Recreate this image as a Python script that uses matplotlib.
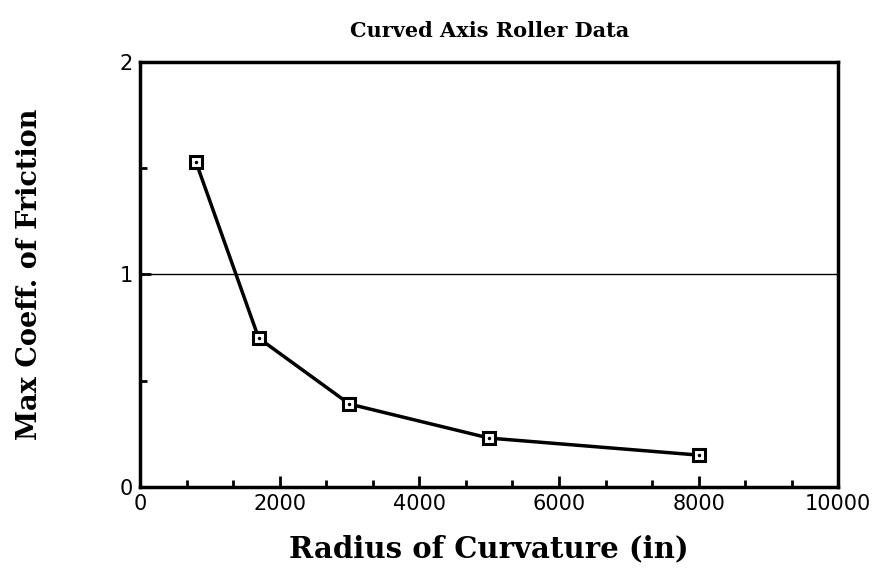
import numpy as np
from matplotlib import pyplot as plt
from matplotlib.ticker import MultipleLocator

radius = [800, 1700, 3000, 5000, 8000]
max_coeff = [1.53, 0.70, 0.39, 0.23, 0.15]
x_ticks = [0, 2000, 4000, 6000, 8000, 10000]
y_ticks = [0, 1, 2]

fig = plt.figure(figsize=(8.75, 5.77), dpi=100)
ax = fig.add_axes([0.16, 0.156, 0.798, 0.737])

ax.axhline(1, color='black', linewidth=1.0)
ax.plot(radius, max_coeff, color='black', linewidth=2.5, marker='s', markersize=9,
        markerfacecolor='white', markeredgecolor='black', markeredgewidth=2.2, zorder=3)
ax.plot(radius, max_coeff, linestyle='none', marker='.', markersize=3, color='black', zorder=4)

ax.set_xlim(0, 10000)
ax.set_ylim(0, 2)
ax.set_xticks(x_ticks)
ax.set_yticks(y_ticks)
ax.xaxis.set_minor_locator(MultipleLocator(10000 / 15))
ax.yaxis.set_minor_locator(MultipleLocator(0.5))
ax.tick_params(axis='both', which='major', direction='in', length=8, width=2,
               labelsize=15, pad=5)
ax.tick_params(axis='both', which='minor', direction='in', length=5, width=2)
for lab in ax.get_xticklabels() + ax.get_yticklabels():
    lab.set_family('DejaVu Sans')

for side in ['left', 'right', 'top', 'bottom']:
    ax.spines[side].set_linewidth(2.5)

serif = ['DejaVu Serif']
ax.set_title('Curved Axis Roller Data', fontsize=15, fontweight='bold', family=serif, pad=18)
ax.set_xlabel('Radius of Curvature (in)', fontsize=21, fontweight='bold', family=serif, labelpad=15)
ax.set_ylabel('Max Coeff. of Friction', fontsize=19.5, fontweight='bold', family=serif, labelpad=55)

fig.savefig('out.png', dpi=100)
